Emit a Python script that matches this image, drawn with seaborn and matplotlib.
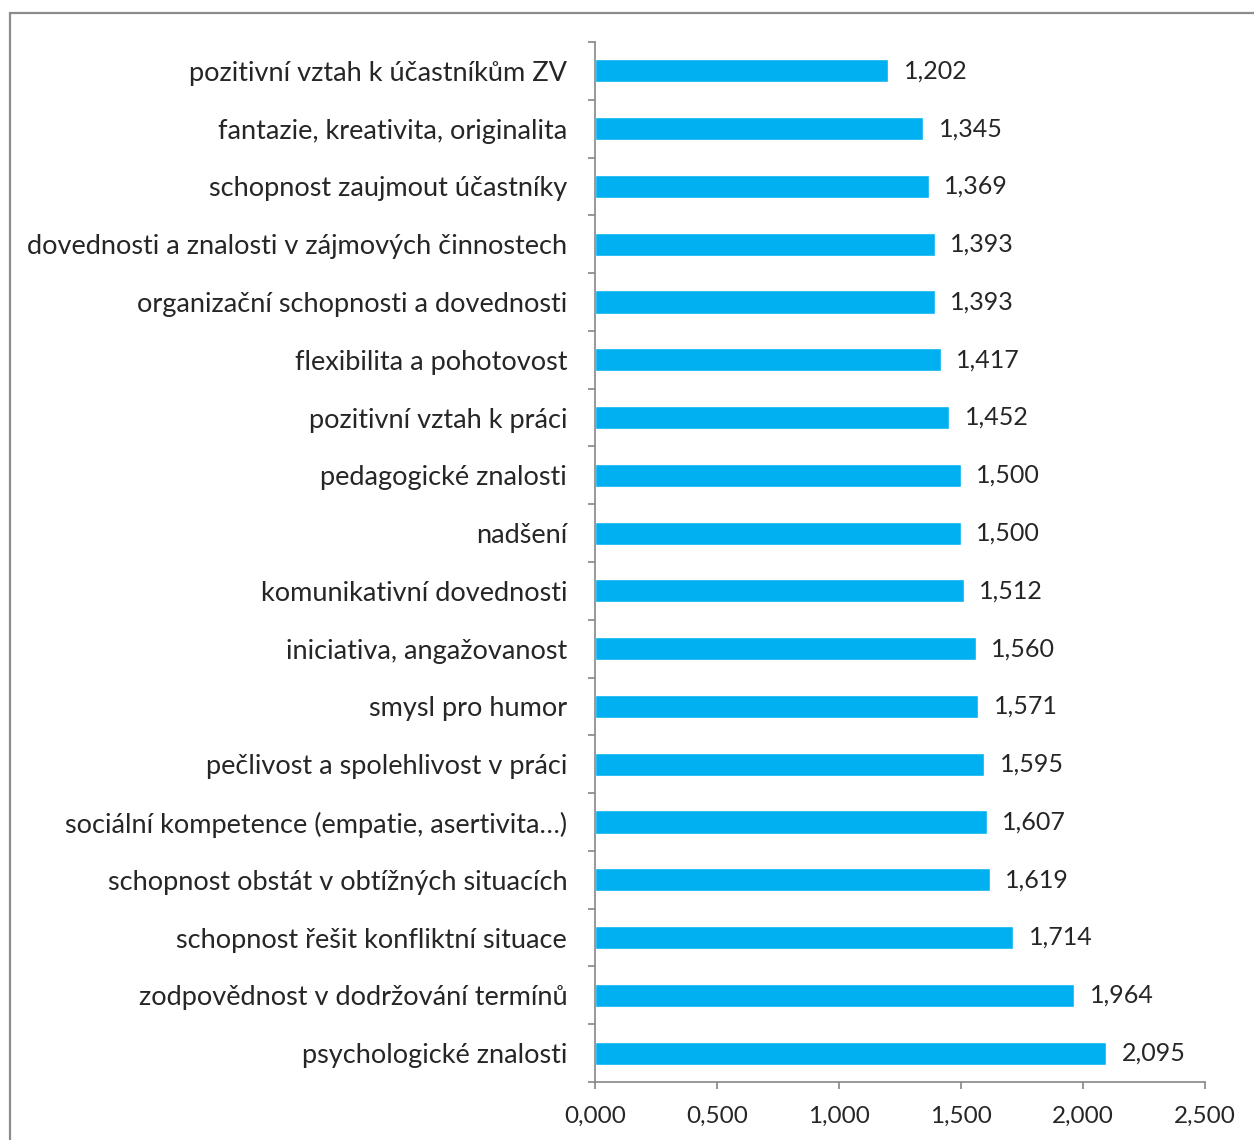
import matplotlib
matplotlib.use("Agg")
import matplotlib.pyplot as plt
import matplotlib.transforms as mtransforms
from matplotlib.patches import Rectangle
from matplotlib.ticker import FixedLocator, FuncFormatter
import seaborn as sns
import pandas as pd
import numpy as np

categories = [
    "pozitivní vztah k účastníkům ZV",
    "fantazie, kreativita, originalita",
    "schopnost zaujmout účastníky",
    "dovednosti a znalosti v zájmových činnostech",
    "organizační schopnosti a dovednosti",
    "flexibilita a pohotovost",
    "pozitivní vztah k práci",
    "pedagogické znalosti",
    "nadšení",
    "komunikativní dovednosti",
    "iniciativa, angažovanost",
    "smysl pro humor",
    "pečlivost a spolehlivost v práci",
    "sociální kompetence (empatie, asertivita…)",
    "schopnost obstát v obtížných situacích",
    "schopnost řešit konfliktní situace",
    "zodpovědnost v dodržování termínů",
    "psychologické znalosti",
]
values = [1.202, 1.345, 1.369, 1.393, 1.393, 1.417, 1.452, 1.500, 1.500,
          1.512, 1.560, 1.571, 1.595, 1.607, 1.619, 1.714, 1.964, 2.095]
x_ticks = [0.0, 0.5, 1.0, 1.5, 2.0, 2.5]

df = pd.DataFrame({"kategorie": categories, "hodnota": values})

sns.set_style("white")
plt.rcParams["font.family"] = ["Lato", "DejaVu Sans"]

text_color = "#262626"
axis_color = "#868686"
bar_color = "#00B0F0"

fig = plt.figure(figsize=(12.54, 11.40), dpi=100)
ax = fig.add_axes([595 / 1254, 58 / 1140, 610 / 1254, 1040 / 1140])

sns.barplot(data=df, x="hodnota", y="kategorie", orient="h",
            color=bar_color, width=0.4, ax=ax, saturation=1)

n = len(categories)
ax.set_xlim(0, 2.5)
ax.set_ylim(n - 0.5, -0.5)
ax.set_xlabel("")
ax.set_ylabel("")

for side in ("top", "right"):
    ax.spines[side].set_visible(False)
for side in ("left", "bottom"):
    ax.spines[side].set_color(axis_color)
    ax.spines[side].set_linewidth(1.2)

comma = FuncFormatter(lambda v, p: f"{v:.3f}".replace(".", ","))
ax.xaxis.set_major_locator(FixedLocator(x_ticks))
ax.xaxis.set_major_formatter(comma)
ax.tick_params(axis="x", which="major", direction="out", length=5, width=1.2,
               color=axis_color, labelsize=17.5, labelcolor=text_color, pad=12,
               bottom=True)

# category separators on the value axis
ax.yaxis.set_minor_locator(FixedLocator(np.arange(-0.5, n, 1.0)))
ax.tick_params(axis="y", which="minor", direction="out", length=5, width=1.2,
               color=axis_color, left=True)
ax.tick_params(axis="y", which="major", length=0, labelsize=19.5,
               labelcolor=text_color, pad=20)

labels = [f"{v:.3f}".replace(".", ",") for v in values]
value_texts = ax.bar_label(ax.containers[0], labels=labels, padding=11,
                           fontsize=18, color=text_color)
nudge = mtransforms.ScaledTranslation(0, -2 / 100, fig.dpi_scale_trans)
for t in value_texts:
    t.set_transform(t.get_transform() + nudge)

# chart frame
fig.patches.append(Rectangle((9.5 / 1254, -0.1), 1.2, (1140 - 13.5) / 1140 + 0.1,
                             transform=fig.transFigure, fill=False,
                             edgecolor="#8c8c8c", linewidth=1.6))

fig.savefig("out.png", dpi=100, facecolor="white")
